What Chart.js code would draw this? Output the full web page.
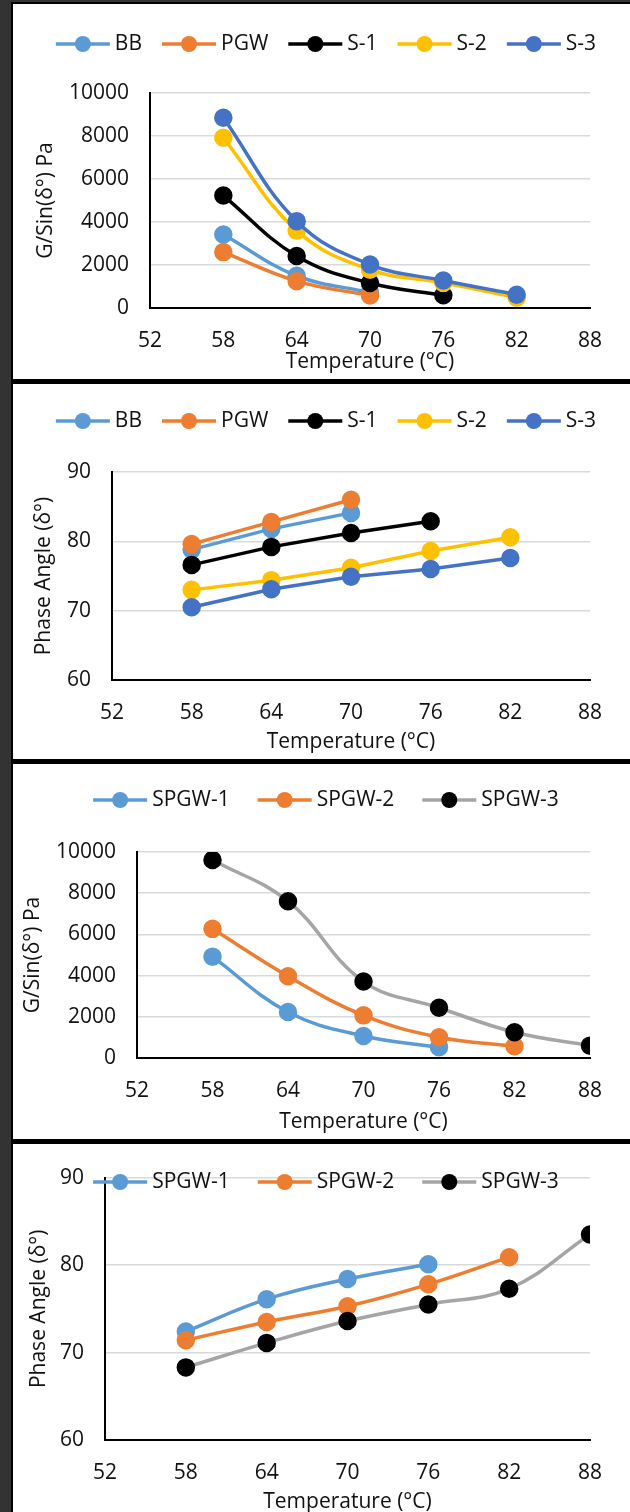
<!DOCTYPE html>
<html>
<head>
<meta charset="utf-8">
<script src="https://cdn.jsdelivr.net/npm/chart.js@4.4.1/dist/chart.umd.min.js"></script>
<style>
  body { margin: 0; background: #333; width: 630px; height: 1512px; overflow: hidden; }
  .frame { position: absolute; left: 11px; top: 2px; width: 619px; height: 1510px; background: #000; }
  .panel { position: absolute; left: 13px; width: 617px; height: 375px; background: #fff; overflow: hidden; }
</style>
</head>
<body>
<div class="frame"></div>
<div class="panel" style="top:4px"><canvas id="c1" width="617" height="375"></canvas></div>
<div class="panel" style="top:384px"><canvas id="c2" width="617" height="375"></canvas></div>
<div class="panel" style="top:764px"><canvas id="c3" width="617" height="375"></canvas></div>
<div class="panel" style="top:1144px; height:368px"><canvas id="c4" width="617" height="375"></canvas></div>
<script>
// temperatures (°C)
const temps = [58, 64, 70, 76, 82, 88];
const xTicks = [52, 58, 64, 70, 76, 82, 88];

// panel 1 - G*/sin(δ) for binders
const bbG = [3420, 1500, 720];
const pgwG = [2600, 1250, 580];
const s1G = [5230, 2420, 1160, 590];
const s2G = [7920, 3600, 1780, 1170, 480];
const s3G = [8850, 4040, 2020, 1280, 620];

// panel 2 - phase angle for binders
const bbPA = [78.8, 81.8, 84.1];
const pgwPA = [79.6, 82.8, 86.0];
const s1PA = [76.6, 79.2, 81.2, 82.9];
const s2PA = [73.0, 74.4, 76.2, 78.6, 80.6];
const s3PA = [70.5, 73.1, 74.9, 76.0, 77.6];

// panel 3 - G*/sin(δ) for SPGW
const spgw1G = [4920, 2230, 1070, 520];
const spgw2G = [6270, 3970, 2070, 1010, 570];
const spgw3G = [9610, 7610, 3710, 2440, 1250, 600];

// panel 4 - phase angle for SPGW
const spgw1PA = [72.4, 76.1, 78.4, 80.1];
const spgw2PA = [71.4, 73.5, 75.3, 77.8, 80.9];
const spgw3PA = [68.3, 71.1, 73.6, 75.5, 77.3, 83.5];

const W = 617, H = 375;
Chart.defaults.font.family = '"Open Sans", sans-serif';
Chart.defaults.font.size = 21;
Chart.defaults.color = '#111';

// excel style legend: line with a dot in the middle
const lineLegend = {
    id: 'lineLegend',
    afterDraw(chart, args, opts) {
        const ctx = chart.ctx;
        ctx.save();
        ctx.font = '21px "Open Sans"';
        const lineLen = 54, textGap = 5, itemGap = opts.gap;
        const items = chart.data.datasets.map(ds => ({ ds: ds, w: lineLen + textGap + ctx.measureText(ds.label).width }));
        const total = items.reduce((s, it) => s + it.w, 0) + itemGap * (items.length - 1);
        let x = opts.cx - total / 2;
        items.forEach(it => {
            ctx.strokeStyle = it.ds.borderColor;
            ctx.lineWidth = 3.5;
            ctx.beginPath();
            ctx.moveTo(x, opts.y);
            ctx.lineTo(x + lineLen, opts.y);
            ctx.stroke();
            ctx.fillStyle = it.ds.pointBackgroundColor;
            ctx.beginPath();
            ctx.arc(x + lineLen / 2, opts.y, 8, 0, Math.PI * 2);
            ctx.fill();
            ctx.fillStyle = '#111';
            ctx.textBaseline = 'middle';
            ctx.textAlign = 'left';
            ctx.fillText(it.ds.label, x + lineLen + textGap, opts.y);
            x += it.w + itemGap;
        });
        ctx.restore();
    }
};

function series(label, values, color, pointColor, tension, idx) {
    return {
        label: label,
        data: values.map((v, i) => ({ x: temps[i], y: v })),
        borderColor: color,
        backgroundColor: pointColor,
        pointBackgroundColor: pointColor,
        pointBorderColor: pointColor,
        pointRadius: 7.5,
        borderWidth: 3.5,
        tension: tension,
        order: -idx
    };
}

function makeChart(id, datasets, box, yOpts, yTitle, titlePad, legend) {
    new Chart(document.getElementById(id), {
        type: 'line',
        data: { datasets: datasets },
        options: {
            responsive: false,
            animation: false,
            layout: { padding: { top: box.top, right: W - box.right, left: 0, bottom: 0 } },
            plugins: {
                legend: { display: false },
                tooltip: { enabled: false },
                lineLegend: { cx: 313, y: legend.y, gap: legend.gap }
            },
            scales: {
                x: {
                    type: 'linear',
                    min: 52, max: 88,
                    afterBuildTicks: s => { s.ticks = xTicks.map(v => ({ value: v })); },
                    afterFit: s => { s.height = H - box.bottom; },
                    grid: { display: false, drawTicks: false },
                    border: { color: '#000', width: 2 },
                    ticks: { padding: 20, maxRotation: 0, callback: v => String(v) },
                    title: { display: true, text: 'Temperature (°C)', padding: { top: 0, bottom: 4 } }
                },
                y: {
                    min: yOpts.min, max: yOpts.max,
                    afterBuildTicks: s => { s.ticks = yOpts.ticks.map(v => ({ value: v })); },
                    afterFit: s => { s.width = box.left; },
                    grid: { color: '#d9d9d9', lineWidth: 1.5, drawTicks: false },
                    border: { color: '#000', width: 2 },
                    ticks: { padding: 21, callback: v => String(v) },
                    title: { display: true, text: yTitle, padding: { top: titlePad, bottom: 0 } }
                }
            }
        },
        plugins: [lineLegend]
    });
}

const gTicks = [0, 2000, 4000, 6000, 8000, 10000];
const paTicks = [60, 70, 80, 90];

makeChart('c1', [
    series('BB', bbG, '#5B9BD5', '#5B9BD5', 0.4, 0),
    series('PGW', pgwG, '#ED7D31', '#ED7D31', 0.4, 1),
    series('S-1', s1G, '#000000', '#000000', 0.4, 2),
    series('S-2', s2G, '#FFC000', '#FFC000', 0.4, 3),
    series('S-3', s3G, '#4472C4', '#4472C4', 0.4, 4)
], { left: 137, right: 577, top: 89, bottom: 304 }, { min: 0, max: 10000, ticks: gTicks }, 'G/Sin(δ°) Pa', 20, { y: 40, gap: 20 });

makeChart('c2', [
    series('BB', bbPA, '#5B9BD5', '#5B9BD5', 0, 0),
    series('PGW', pgwPA, '#ED7D31', '#ED7D31', 0, 1),
    series('S-1', s1PA, '#000000', '#000000', 0, 2),
    series('S-2', s2PA, '#FFC000', '#FFC000', 0, 3),
    series('S-3', s3PA, '#4472C4', '#4472C4', 0, 4)
], { left: 99, right: 577, top: 88, bottom: 296 }, { min: 60, max: 90, ticks: paTicks }, 'Phase Angle (δ°)', 18, { y: 37, gap: 20 });

makeChart('c3', [
    series('SPGW-1', spgw1G, '#5B9BD5', '#5B9BD5', 0.4, 0),
    series('SPGW-2', spgw2G, '#ED7D31', '#ED7D31', 0.4, 1),
    series('SPGW-3', spgw3G, '#A5A5A5', '#000000', 0.4, 2)
], { left: 124, right: 577, top: 88, bottom: 294 }, { min: 0, max: 10000, ticks: gTicks }, 'G/Sin(δ°) Pa', 7, { y: 36, gap: 28 });

makeChart('c4', [
    series('SPGW-1', spgw1PA, '#5B9BD5', '#5B9BD5', 0.4, 0),
    series('SPGW-2', spgw2PA, '#ED7D31', '#ED7D31', 0.4, 1),
    series('SPGW-3', spgw3PA, '#A5A5A5', '#000000', 0.4, 2)
], { left: 92, right: 577, top: 23, bottom: 296 }, { min: 60, max: 90, ticks: paTicks }, 'Phase Angle (δ°)', 13, { y: 38, gap: 28 });
</script>
</body>
</html>
